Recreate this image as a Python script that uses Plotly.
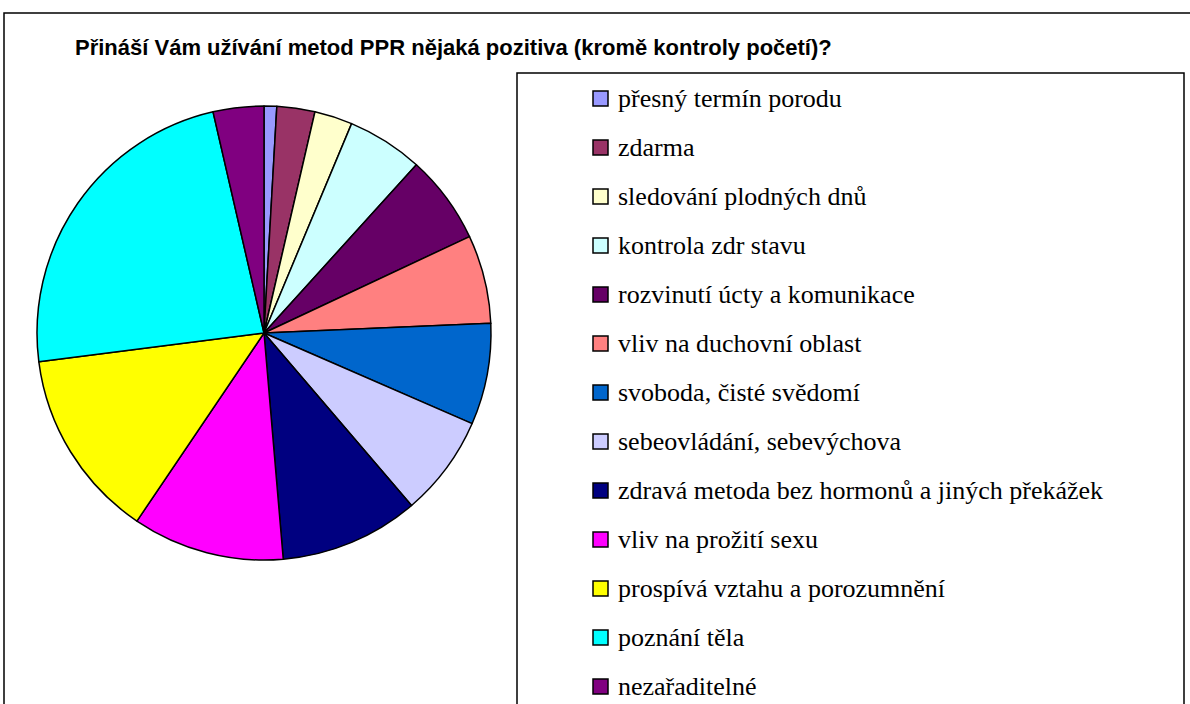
import plotly.graph_objects as go

W, H = 1190, 704

title = "Přináší Vám užívání metod PPR nějaká pozitiva (kromě kontroly početí)?"
labels = [
    "přesný termín porodu",
    "zdarma",
    "sledování plodných dnů",
    "kontrola zdr stavu",
    "rozvinutí úcty a komunikace",
    "vliv na duchovní oblast",
    "svoboda, čisté svědomí",
    "sebeovládání, sebevýchova",
    "zdravá metoda bez hormonů a jiných překážek",
    "vliv na prožití sexu",
    "prospívá vztahu a porozumnění",
    "poznání těla",
    "nezařaditelné",
]
counts = [1, 3, 3, 6, 7, 7, 8, 8, 11, 12, 15, 26, 4]
colors = ["#9999FF", "#993366", "#FFFFCC", "#CCFFFF", "#660066", "#FF8080",
          "#0066CC", "#CCCCFF", "#000080", "#FF00FF", "#FFFF00", "#00FFFF", "#800080"]


def px(x):
    return x / W


def py(y):
    return 1 - y / H


# pie placed in a square box (center 264,333 radius 227)
cx, cy, r = 264, 333, 227
fig = go.Figure(go.Pie(
    labels=labels, values=counts, sort=False, direction="clockwise", rotation=0,
    marker=dict(colors=colors, line=dict(color="black", width=1.5)),
    textinfo="none", hoverinfo="label+value+percent", showlegend=False,
    domain=dict(x=[px(cx - r), px(cx + r)], y=[py(cy + r), py(cy - r)]),
))

shapes = [
    # outer chart frame
    dict(type="rect", xref="paper", yref="paper", x0=px(4), x1=px(1210), y0=py(730), y1=py(13),
         line=dict(color="black", width=1.5), fillcolor="rgba(0,0,0,0)", layer="below"),
    # legend frame
    dict(type="rect", xref="paper", yref="paper", x0=px(517), x1=px(1184), y0=py(730), y1=py(73),
         line=dict(color="black", width=1.5), fillcolor="rgba(0,0,0,0)", layer="below"),
]
annotations = [dict(text="<b>" + title + "</b>", xref="paper", yref="paper", x=px(73), y=py(47),
                    xanchor="left", yanchor="middle", showarrow=False,
                    font=dict(family="Liberation Sans, Arial, sans-serif", size=22, color="black"))]

# legend entries
top, step = 98.5, 49.0
for i, (lab, col) in enumerate(zip(labels, colors)):
    yc = top + i * step
    shapes.append(dict(type="rect", xref="paper", yref="paper",
                       x0=px(593), x1=px(608), y0=py(yc + 7.5), y1=py(yc - 7.5),
                       fillcolor=col, line=dict(color="black", width=1.5)))
    annotations.append(dict(text=lab, xref="paper", yref="paper", x=px(616), y=py(yc),
                            xanchor="left", yanchor="middle", showarrow=False,
                            font=dict(family="Liberation Serif, Times New Roman, DejaVu Serif, serif",
                                      size=26, color="black")))

fig.update_layout(
    width=W, height=H, margin=dict(l=0, r=0, t=0, b=0),
    paper_bgcolor="white", plot_bgcolor="white",
    shapes=shapes, annotations=annotations,
)

# drop the default body margin so the figure sits at the page corner
fig.write_html("out.html", config={"displayModeBar": False},
               post_script="document.body.style.margin='0px';")
